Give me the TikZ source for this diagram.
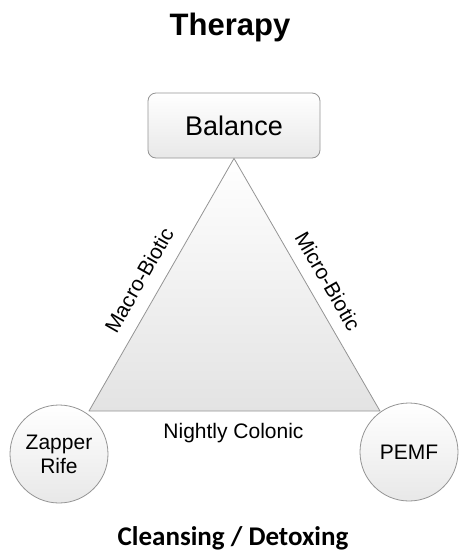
\documentclass[tikz,border=0pt]{standalone}
\usepackage{fontspec}
\setmainfont{Liberation Sans}
\newfontfamily\calfont{Carlito}
\begin{document}
\begin{tikzpicture}[x=1pt,y=-1pt,
  edgecol/.style={draw=black!42, line width=0.8pt},
  lbl/.style={font=\fontsize{21}{24}\selectfont, inner sep=0pt},
  bubble/.style={circle, edgecol, top color=white, bottom color=black!9, minimum size=98pt, inner sep=0pt, align=center, font=\fontsize{21}{24}\selectfont},
  topbox/.style={rounded corners=8pt, edgecol, top color=white, bottom color=black!9, minimum width=172pt, minimum height=65pt, inner sep=0pt, font=\fontsize{27}{30}\selectfont}]
\useasboundingbox (0,0) rectangle (467,560);
\node[anchor=base, font=\bfseries\fontsize{31}{36}\selectfont, inner sep=0pt] (title) at (230,35) {Therapy};
\node[topbox] (bal) at (234,125.5) {Balance};
\coordinate (apex) at (bal.south);
\coordinate (bl) at (89,411);
\coordinate (br) at (380,411);
\shade[top color=white, bottom color=black!11] (apex) -- (bl) -- (br) -- cycle;
\draw[edgecol, line join=round] (apex) -- (bl) -- (br) -- cycle;
\node[bubble] (zap) at (59,454) {Zapper\\Rife};
\node[bubble] (pemf) at (409,452) {PEMF};
\node[lbl, rotate=60.2] (macro) at (139,280) {Macro-Biotic};
\node[lbl, rotate=-60.2] (micro) at (328,281) {Micro-Biotic};
\node[lbl, anchor=base] (night) at (233.5,438) {Nightly Colonic};
\node[anchor=base, font=\calfont\bfseries\fontsize{27}{30}\selectfont, inner sep=0pt] (clean) at (233,545) {Cleansing / Detoxing};
\end{tikzpicture}
\end{document}
